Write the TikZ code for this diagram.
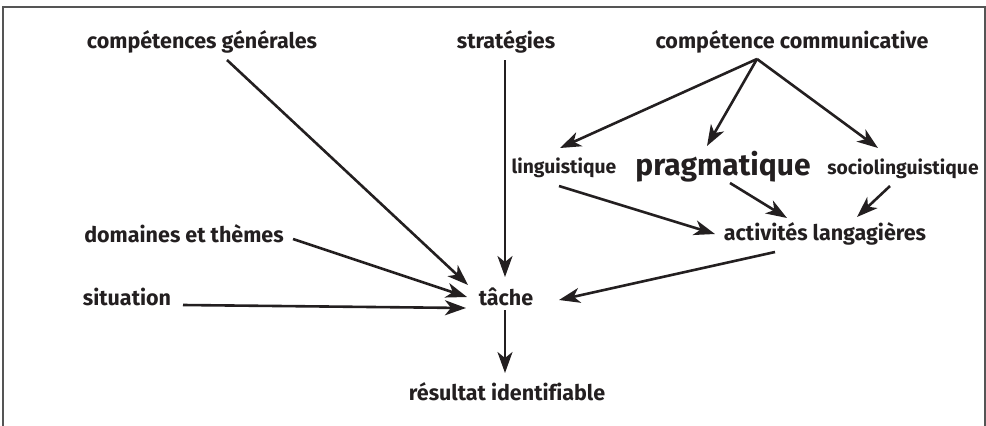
\documentclass[tikz,border=0pt]{standalone}
\usepackage{fontspec}
\setmainfont{Fira Sans}[Ligatures=NoCommon]
\usetikzlibrary{arrows.meta,calc}
\definecolor{ink}{HTML}{231F20}
\definecolor{frame}{HTML}{555555}
\tikzset{
  lbl/.style={inner sep=0pt, anchor=base, text=ink, font=\fontsize{21.5}{24}\selectfont\bfseries},
  small/.style={lbl, font=\fontsize{19.3}{21}\selectfont\bfseries},
  big/.style={lbl, font=\fontsize{30}{32}\selectfont\bfseries},
  arr/.style={draw=ink, line width=2.6pt, -{Stealth[length=21pt,width=15pt,inset=6pt]}},
}
\begin{document}
\begin{tikzpicture}[x=1pt,y=-1pt]
\useasboundingbox (0,0) rectangle (986,426);
\draw[frame, line width=1.6pt] (3,430) -- (3,7) -- (985,7) -- (985,430);

\node[lbl] (cg) at (202,48) {compétences générales};
\node[lbl] (strat) at (506,48) {stratégies};
\node[lbl] (cc) at (792,48) {compétence communicative};
\node[small] (ling) at (564,173) {linguistique};
\node[big] (prag) at (723,175) {pragmatique};
\node[small] (socio) at (903,174) {sociolinguistique};
\node[lbl] (act) at (825,240) {activités langagières};
\node[lbl] (dom) at (184,242) {domaines et thèmes};
\node[lbl] (sit) at (127,305) {situation};
\node[lbl] (tache) at (506,305) {tâche};
\node[lbl] (res) at (507,400) {résultat identifiable};

\coordinate (fork) at ([shift={(-35,11)}]cc.base);

\draw[arr] ([shift={(25,12)}]cg.base) -- ([shift={(-38,-20)}]tache.base);
\draw[arr] ([shift={(-1,12)}]strat.base) -- ([shift={(-1,-28)}]tache.base);
\draw[arr] (fork) -- ([shift={(-4,-25)}]ling.base);
\draw[arr] (fork) -- ([shift={(-16,-29)}]prag.base);
\draw[arr] (fork) -- ([shift={(-25,-26)}]socio.base);
\draw[arr] ([shift={(-5,13)}]ling.base) -- ([shift={(-110,-6)}]act.base);
\draw[arr] ([shift={(7,8)}]prag.base) -- ([shift={(-38,-22)}]act.base);
\draw[arr] ([shift={(-13,12)}]socio.base) -- ([shift={(32,-23)}]act.base);
\draw[arr] ([shift={(-50,12)}]act.base) -- ([shift={(53,-5)}]tache.base);
\draw[arr] ([shift={(109,-3)}]dom.base) -- ([shift={(-39,-8)}]tache.base);
\draw[arr] ([shift={(56,0)}]sit.base) -- ([shift={(-40,3)}]tache.base);
\draw[arr] ([shift={(-1,5)}]tache.base) -- ([shift={(-2,-27)}]res.base);
\end{tikzpicture}
\end{document}
